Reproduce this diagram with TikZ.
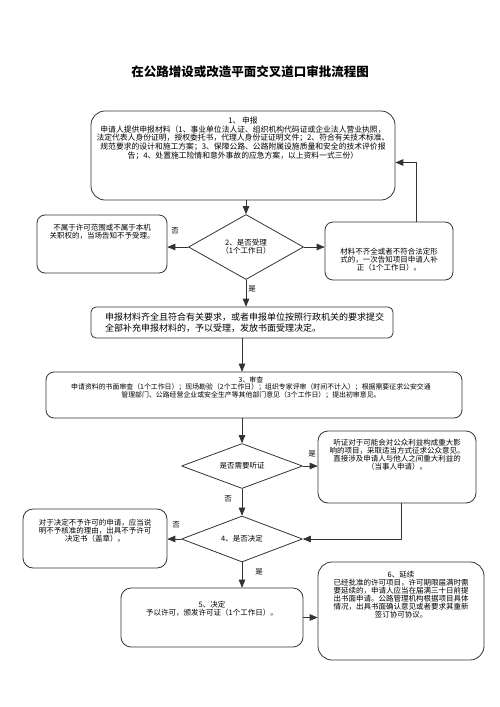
\documentclass[tikz,border=0pt]{standalone}
\usepackage{fontspec}
\setmainfont{Noto Sans CJK SC}
\usepackage{tikz}
\usetikzlibrary{arrows,shapes.geometric}

\begin{document}
\begin{tikzpicture}[line cap=round,line join=round,>=triangle 45,x=1pt,y=-1pt,
 box/.style={draw=black!80,line width=0.8pt,rounded corners=#1,inner sep=0pt},
 box/.default=8pt,
 dec/.style={draw=black!80,line width=0.8pt,diamond,aspect=1.8,inner sep=0pt,align=center,font=\fontsize{7.5}{7}\selectfont},
 txt/.style={anchor=north,align=center,inner sep=0pt,font=\fontsize{7.5}{6.8}\selectfont},
 lbl/.style={font=\fontsize{7.5}{8}\selectfont,inner sep=0pt},
 link/.style={->,line width=0.8pt,black!80}]
\useasboundingbox (0,0) rectangle (500,707);
\fill[white] (0,0) rectangle (500,707);
\node[font=\fontsize{12.5}{14}\selectfont\bfseries] (title) at (250,72) {在公路增设或改造平面交叉道口审批流程图};
\node[box=14pt,minimum width=304pt,minimum height=89pt] (apply) at (243,155.5) {};
\node[txt,font=\fontsize{7.8}{6.9}\selectfont] (applyt) at (243,117) {1、 申报\\申请人提供申报材料（1、事业单位法人证、组织机构代码证或企业法人营业执照，\\法定代表人身份证明，授权委托书，代理人身份证证明文件；2、符合有关技术标准、\\规范要求的设计和施工方案；3、保障公路、公路附属设施质量和安全的技术评价报\\告；4、处置施工险情和意外事故的应急方案，以上资料一式三份）};
\node[dec,minimum width=115pt,minimum height=65pt] (accept) at (246,247) {2、是否受理\\（1个工作日）};
\node[box,minimum width=130pt,minimum height=58pt] (outside) at (102,244) {};
\node[txt] (outsidet) at (102,224) {不属于许可范围或不属于本机\\关职权的，当场告知不予受理。};
\node[box,minimum width=128pt,minimum height=58pt] (supply) at (389,251) {};
\node[txt] (supplyt) at (389,248) {材料不齐全或者不符合法定形\\式的，一次告知项目申请人补\\正（1个工作日）。};
\node[box=5pt,minimum width=302pt,minimum height=31pt] (admit) at (242,322.5) {};
\node[anchor=north west,align=left,inner sep=0pt,font=\fontsize{9}{11}\selectfont] (admitt) at (105,313) {申报材料齐全且符合有关要求，或者申报单位按照行政机关的要求提交\\全部补充申报材料的，予以受理，发放书面受理决定。};
\node[box,minimum width=416pt,minimum height=46pt] (review) at (254,395) {};
\node[txt,font=\fontsize{6.9}{6.6}\selectfont] (reviewt) at (251,376.5) {3、审查\\申请资料的书面审查（1个工作日）；现场勘验（2个工作日）；组织专家评审（时间不计入）；根据需要征求公安交通\\管理部门、公路经营企业或安全生产等其他部门意见（3个工作日）；提出初审意见。};
\node[dec,minimum width=121pt,minimum height=45pt] (hearq) at (242,466) {是否需要听证};
\node[box=10pt,minimum width=158pt,minimum height=72pt] (hearing) at (397,467) {};
\node[txt] (hearingt) at (397,439) {听证对于可能会对公众利益构成重大影\\响的项目，采取适当方式征求公众意见。\\直接涉及申请人与他人之间重大利益的\\（当事人申请）。};
\node[dec,minimum width=121pt,minimum height=46pt] (decide) at (242,539) {4、是否决定};
\node[box=10pt,minimum width=144pt,minimum height=59pt] (refuse) at (95,538.5) {};
\node[txt] (refuset) at (95,519) {对于决定不予许可的申请，应当说\\明不予核准的理由，出具不予许可\\决定书（盖章）。};
\node[box=10pt,minimum width=182pt,minimum height=59pt] (grant) at (212,617.5) {};
\node[txt] (grantt) at (212,601) {5、决定\\予以许可，颁发许可证（1个工作日）。};
\node[box=14pt,minimum width=166pt,minimum height=98pt] (extend) at (401,611) {};
\node[txt] (extendt) at (401,571) {6、延续\\已经批准的许可项目，许可期限届满时需\\要延续的，申请人应当在届满三十日前提\\出书面申请。公路管理机构根据项目具体\\情况，出具书面确认意见或者要求其重新\\签订协可协议。};
\draw[link] (accept.north |- apply.south) -- (accept.north);
\draw[link] (accept.west) -- (accept.west -| outside.east);
\draw[link] (accept.east) -- (accept.east -| supply.west);
\draw[link] ([xshift=27pt]supply.north) |- ([yshift=-7pt]apply.east);
\draw[link] (accept.south) -- (accept.south |- admit.north);
\draw[link] (admit.south) -- (admit.south |- review.north);
\draw[link] (hearq.north |- review.south) -- (hearq.north);
\draw[link] (hearq.east) -- (hearq.east -| hearing.west);
\draw[link] (hearq.south) -- (decide.north);
\draw[link] ([xshift=4pt]hearing.south) |- (decide.east);
\draw[link] (decide.west) -- (decide.west -| refuse.east);
\draw[link] (decide.south) -- (decide.south |- grant.north);
\draw[link] (grant.east) -- (grant.east -| extend.west);
\node[lbl] (no1) at (175,231) {否};
\node[lbl] (yes1) at (252,289) {是};
\node[lbl] (yes2) at (312,454) {是};
\node[lbl] (no2) at (228,499) {否};
\node[lbl] (no3) at (176,525) {否};
\node[lbl] (yes3) at (259,572) {是};
\end{tikzpicture}
\end{document}
